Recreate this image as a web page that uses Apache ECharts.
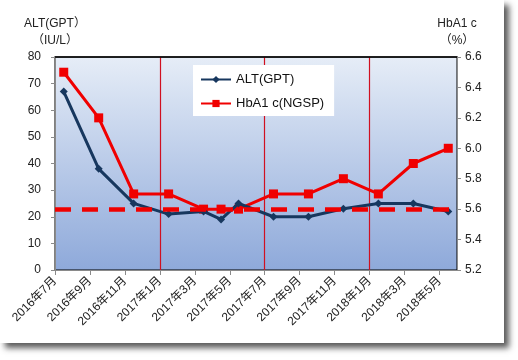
<!DOCTYPE html>
<html><head><meta charset="utf-8">
<script src="https://cdn.jsdelivr.net/npm/echarts@6/dist/echarts.min.js"></script>
<style>
html,body{margin:0;padding:0;background:#fff;}
#chart{position:absolute;left:0;top:0;width:504px;height:343px;background:#fff;box-shadow:5px 5px 6px rgba(50,50,50,0.8);}
</style></head>
<body><div id="chart"></div>
<script>
// ---- data ----
const axisStartMonth = '2016-07';
const axisMonthCount = 23;
const xTickLabels = ['2016年7月','2016年9月','2016年11月','2017年1月','2017年3月','2017年5月','2017年7月','2017年9月','2017年11月','2018年1月','2018年3月','2018年5月'];
const months = ['2016-07','2016-09','2016-11','2017-01','2017-03','2017-04','2017-05','2017-07','2017-09','2017-11','2018-01','2018-03','2018-05'];
const altValues = [67,38,25,21,22,19,25,20,20,23,25,25,22];
const hba1cValues = [6.5,6.2,5.7,5.7,5.6,5.6,5.6,5.7,5.7,5.8,5.7,5.9,6.0];
const hba1cReference = 5.6;
const dividerEveryMonths = 6;   // half-year dividers: 2017年1月, 2017年7月, 2018年1月
const leftTicks = {min:0, max:80, interval:10};
const rightTicks = {min:5.2, max:6.6, interval:0.2};

function monthIndex(s){
  const [y,m] = s.split('-').map(Number);
  const [y0,m0] = axisStartMonth.split('-').map(Number);
  return (y - y0) * 12 + (m - m0);
}
const FONT = "'Liberation Sans','Noto Sans CJK JP',sans-serif";
const altData = months.map((m,i)=>[monthIndex(m)+0.5, altValues[i]]);
const hbaData = months.map((m,i)=>[monthIndex(m)+0.5, hba1cValues[i]]);

const chart = echarts.init(document.getElementById('chart'));
chart.setOption({
  animation:false,
  textStyle:{fontFamily:FONT},
  grid:{left:55, right:47, top:57, bottom:73, show:true, borderWidth:1, borderColor:'#000',
    backgroundColor:{type:'linear',x:0,y:0,x2:0,y2:1,colorStops:[{offset:0,color:'#E6EDF7'},{offset:1,color:'#8EA9DA'}]}},
  legend:{
    orient:'vertical', left:193, top:65, backgroundColor:'#fff',
    padding:[8,10,6,7], itemGap:11, itemWidth:30, itemHeight:9,
    textStyle:{fontSize:13, color:'#111', fontFamily:FONT},
    data:['ALT(GPT)','HbA1 c(NGSP)']
  },
  xAxis:[{
    type:'value', min:0, max:axisMonthCount, interval:2,
    axisLine:{show:true, onZero:false, lineStyle:{color:'#8a8a8a', width:1}},
    axisTick:{show:true, length:5, lineStyle:{color:'#8a8a8a'}},
    splitLine:{show:false},
    axisLabel:{rotate:45, margin:9, fontSize:12, color:'#222', fontFamily:FONT,
      showMaxLabel:false,
      formatter:function(v){ return (v % 2 === 0 && xTickLabels[v/2]) ? xTickLabels[v/2] : ''; }}
  },{
    type:'value', position:'top', min:0, max:axisMonthCount, interval:dividerEveryMonths,
    axisLine:{show:true, onZero:false, lineStyle:{color:'#000000', width:1.5}},
    axisTick:{show:false}, axisLabel:{show:false},
    splitLine:{show:true, showMinLine:false, showMaxLine:false, lineStyle:{color:'#D01020', width:1.2, opacity:1}}
  }],
  yAxis:[{
    type:'value', min:leftTicks.min, max:leftTicks.max, interval:leftTicks.interval,
    name:'ALT(GPT）\n（IU/L）', nameGap:8, nameMoveOverlap:false,
    nameTextStyle:{fontSize:12, color:'#222', lineHeight:17, align:'center', fontFamily:FONT},
    axisLine:{show:true, onZero:false, lineStyle:{color:'#8a8a8a'}},
    axisTick:{show:true, length:4, lineStyle:{color:'#8a8a8a'}},
    splitLine:{show:false},
    axisLabel:{margin:14, fontSize:12, color:'#222', fontFamily:FONT}
  },{
    type:'value', position:'right', min:rightTicks.min, max:rightTicks.max, interval:rightTicks.interval,
    name:'HbA1 c\n（%）', nameGap:8, nameMoveOverlap:false,
    nameTextStyle:{fontSize:12, color:'#222', lineHeight:17, align:'center', fontFamily:FONT},
    axisLine:{show:true, onZero:false, lineStyle:{color:'#8a8a8a'}},
    axisTick:{show:true, length:4, lineStyle:{color:'#8a8a8a'}},
    splitLine:{show:false},
    axisLabel:{margin:8, fontSize:12, color:'#222', fontFamily:FONT,
      formatter:function(v){return v.toFixed(1);}}
  }],
  series:[{
    name:'HbA1 c(NGSP)', type:'line', xAxisIndex:0, yAxisIndex:1, data:hbaData,
    symbol:'rect', symbolSize:9,
    lineStyle:{color:'#F00000', width:3}, itemStyle:{color:'#F00000'},
    z:3,
    markLine:{silent:true, symbol:'none', label:{show:false},
      lineStyle:{color:'#F00000', width:4.5, type:[16,11]},
      data:[{yAxis:hba1cReference}]}
  },{
    name:'ALT(GPT)', type:'line', xAxisIndex:0, yAxisIndex:0, data:altData,
    symbol:'diamond', symbolSize:8,
    lineStyle:{color:'#17375E', width:3}, itemStyle:{color:'#17375E'},
    z:4
  }]
});
</script></body></html>
